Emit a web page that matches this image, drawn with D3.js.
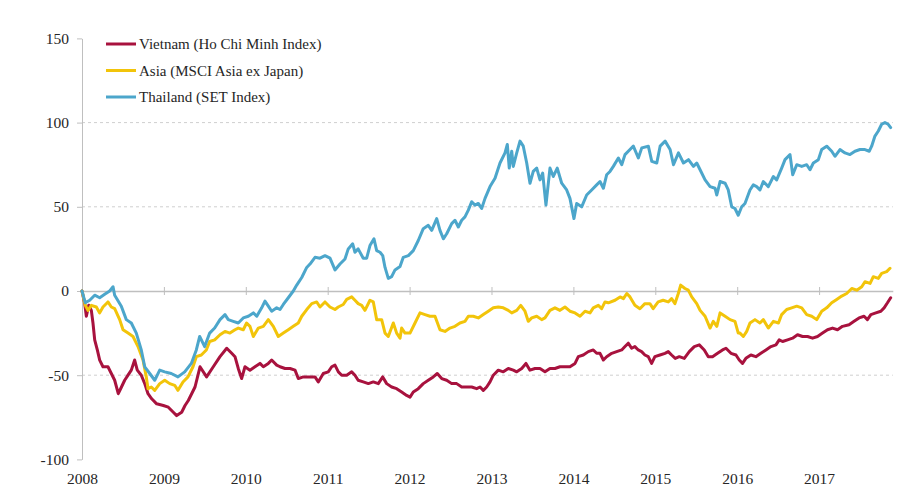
<!DOCTYPE html>
<html>
<head>
<meta charset="utf-8">
<script src="https://cdn.jsdelivr.net/npm/d3@7"></script>
<style>
  body { margin: 0; background: #fff; }
  text { font-family: "Liberation Serif", "DejaVu Serif", serif; fill: #262626; }
</style>
</head>
<body>
<div id="chart"></div>
<script>
// decimal year, % change since start of 2008
var vietnam = [
  [2008.000,0],[2008.033,-7.5],[2008.053,-15],[2008.082,-8.5],[2008.114,-11.5],[2008.134,-19],[2008.155,-29],
  [2008.187,-35],[2008.216,-41],[2008.256,-45],[2008.317,-45],[2008.358,-49],[2008.399,-53],[2008.443,-61],
  [2008.482,-57],[2008.521,-53],[2008.562,-50],[2008.602,-47],[2008.643,-41],[2008.675,-47],[2008.724,-50],
  [2008.766,-55],[2008.806,-61],[2008.851,-64],[2008.912,-67],[2008.993,-68],[2009.054,-69],[2009.115,-72],
  [2009.156,-74],[2009.217,-72],[2009.258,-68],[2009.298,-65],[2009.339,-61],[2009.380,-57],[2009.441,-45],
  [2009.521,-51],[2009.603,-45],[2009.685,-39],[2009.767,-34],[2009.828,-37],[2009.868,-39],[2009.908,-46],
  [2009.949,-52],[2009.990,-45],[2010.051,-47],[2010.112,-45],[2010.173,-43],[2010.214,-45],[2010.275,-43],
  [2010.316,-41],[2010.377,-44],[2010.418,-45],[2010.479,-46],[2010.540,-46],[2010.601,-47],[2010.641,-52],
  [2010.702,-51],[2010.784,-51],[2010.845,-51],[2010.885,-54],[2010.946,-49],[2011.007,-48],[2011.049,-45],
  [2011.089,-44],[2011.130,-48],[2011.171,-50],[2011.232,-50],[2011.293,-48],[2011.333,-50],[2011.372,-53],
  [2011.434,-54],[2011.496,-55],[2011.557,-54],[2011.618,-55],[2011.672,-51],[2011.720,-55],[2011.781,-57],
  [2011.842,-58],[2011.903,-60],[2011.964,-62],[2012.005,-63],[2012.045,-60],[2012.106,-58],[2012.167,-55],
  [2012.228,-53],[2012.289,-51],[2012.338,-49],[2012.392,-52],[2012.453,-53],[2012.514,-55],[2012.575,-55],
  [2012.636,-57],[2012.697,-57],[2012.758,-57],[2012.819,-58],[2012.860,-57],[2012.900,-59],[2012.941,-57],
  [2012.982,-54],[2013.022,-50],[2013.083,-47],[2013.144,-48],[2013.205,-46],[2013.266,-47],[2013.308,-48],
  [2013.369,-46],[2013.421,-43],[2013.470,-47],[2013.531,-46],[2013.592,-46],[2013.653,-48],[2013.714,-46],
  [2013.775,-46],[2013.836,-45],[2013.897,-45],[2013.958,-45],[2014.020,-43],[2014.060,-39],[2014.121,-38],
  [2014.182,-36],[2014.243,-35],[2014.284,-37],[2014.325,-37],[2014.366,-41],[2014.406,-39],[2014.468,-37],
  [2014.528,-36],[2014.590,-35],[2014.630,-33],[2014.670,-31],[2014.711,-34],[2014.751,-33],[2014.792,-35],
  [2014.833,-36],[2014.873,-38],[2014.914,-39],[2014.955,-43],[2014.995,-39],[2015.057,-38],[2015.118,-37],
  [2015.158,-36],[2015.199,-38],[2015.244,-40],[2015.293,-39],[2015.354,-40],[2015.415,-36],[2015.476,-33],
  [2015.537,-32],[2015.598,-35],[2015.647,-39],[2015.699,-39],[2015.760,-37],[2015.821,-35],[2015.863,-34],
  [2015.924,-37],[2015.985,-38],[2016.025,-41],[2016.065,-43],[2016.106,-40],[2016.167,-38],[2016.228,-39],
  [2016.289,-37],[2016.351,-35],[2016.412,-33],[2016.473,-32],[2016.513,-29],[2016.554,-30],[2016.615,-29],
  [2016.676,-28],[2016.737,-26],[2016.798,-27],[2016.859,-27],[2016.920,-28],[2016.981,-27],[2017.042,-25],
  [2017.103,-23],[2017.164,-22],[2017.225,-23],[2017.286,-21],[2017.366,-20],[2017.427,-18],[2017.488,-16],
  [2017.549,-15],[2017.590,-17],[2017.632,-14],[2017.693,-13],[2017.754,-12],[2017.794,-10],[2017.835,-7],
  [2017.874,-4]
];

var asia = [
  [2008.000,0],[2008.040,-8.5],[2008.073,-11.5],[2008.114,-8.5],[2008.175,-9.5],[2008.216,-13],[2008.256,-9.5],
  [2008.317,-6.5],[2008.358,-9.5],[2008.399,-10.5],[2008.460,-17],[2008.501,-23],[2008.562,-25],[2008.623,-27],
  [2008.684,-33],[2008.745,-41],[2008.785,-51],[2008.806,-58],[2008.846,-57],[2008.888,-59],[2008.949,-55],
  [2009.010,-53],[2009.071,-55],[2009.132,-56],[2009.172,-59],[2009.233,-54],[2009.294,-51],[2009.355,-45],
  [2009.396,-39],[2009.457,-38],[2009.518,-35],[2009.559,-30],[2009.620,-29],[2009.685,-26],[2009.746,-24],
  [2009.806,-25],[2009.868,-23],[2009.908,-22],[2009.969,-23],[2010.010,-19],[2010.051,-21],[2010.092,-27],
  [2010.153,-22],[2010.214,-21],[2010.275,-17],[2010.336,-21],[2010.397,-27],[2010.458,-25],[2010.519,-23],
  [2010.580,-21],[2010.641,-19],[2010.683,-15],[2010.744,-11],[2010.805,-7.5],[2010.866,-6.5],[2010.906,-9.5],
  [2010.967,-6.5],[2011.028,-9.5],[2011.089,-11],[2011.129,-9.5],[2011.190,-8],[2011.232,-5],[2011.293,-3.5],
  [2011.333,-5.5],[2011.372,-7.5],[2011.415,-8.5],[2011.455,-11.5],[2011.516,-5.5],[2011.557,-6.5],[2011.598,-17],
  [2011.659,-17],[2011.700,-25],[2011.740,-27],[2011.801,-19],[2011.842,-25],[2011.883,-28],[2011.903,-22],
  [2011.944,-25],[2012.005,-25],[2012.066,-19],[2012.127,-13],[2012.188,-14],[2012.249,-15],[2012.310,-15],
  [2012.371,-23],[2012.432,-24],[2012.493,-22],[2012.554,-21],[2012.615,-19],[2012.676,-18],[2012.717,-15],
  [2012.778,-15],[2012.839,-16],[2012.900,-14],[2012.961,-12],[2013.022,-10],[2013.083,-9.5],[2013.144,-10],
  [2013.205,-11.5],[2013.247,-13],[2013.308,-11.5],[2013.357,-8.5],[2013.409,-12],[2013.449,-18],[2013.491,-16],
  [2013.552,-15],[2013.613,-17],[2013.653,-16],[2013.714,-11.5],[2013.775,-10],[2013.836,-11.5],[2013.897,-9.5],
  [2013.958,-12],[2014.020,-13],[2014.081,-15],[2014.142,-12],[2014.203,-13],[2014.243,-10],[2014.304,-8.5],
  [2014.345,-10.5],[2014.386,-6.5],[2014.427,-7],[2014.508,-5.5],[2014.570,-3.5],[2014.611,-4.5],[2014.652,-1.5],
  [2014.691,-3.5],[2014.751,-8.5],[2014.812,-10.5],[2014.873,-7.5],[2014.934,-7.5],[2014.974,-10.5],[2015.035,-6.5],
  [2015.096,-5.5],[2015.158,-6.5],[2015.199,-4.5],[2015.240,-7.5],[2015.281,-1.5],[2015.310,3.5],[2015.362,1.5],
  [2015.403,0.5],[2015.445,-3.5],[2015.506,-7.5],[2015.547,-11.5],[2015.608,-15],[2015.669,-22],[2015.708,-18],
  [2015.751,-21],[2015.791,-13],[2015.852,-15],[2015.913,-17],[2015.973,-18],[2016.013,-25],[2016.034,-25],
  [2016.075,-27],[2016.116,-24],[2016.156,-19],[2016.217,-17],[2016.278,-19],[2016.319,-17],[2016.380,-22],
  [2016.442,-18],[2016.504,-19],[2016.543,-14],[2016.604,-11],[2016.665,-10],[2016.727,-9],[2016.788,-10],
  [2016.849,-14],[2016.910,-15],[2016.971,-17],[2017.032,-12],[2017.093,-10],[2017.154,-7],[2017.215,-5],
  [2017.276,-3],[2017.337,-1.5],[2017.399,1.5],[2017.460,0.5],[2017.521,2.5],[2017.560,5.5],[2017.623,4.5],
  [2017.662,8.5],[2017.723,7.5],[2017.764,10.5],[2017.825,11.5],[2017.866,13.5]
];

var thailand = [
  [2008.000,0],[2008.040,-7],[2008.094,-5.5],[2008.155,-2.5],[2008.216,-4],[2008.277,-2],[2008.338,0],
  [2008.379,2.5],[2008.399,-2.5],[2008.480,-9],[2008.541,-17],[2008.602,-19],[2008.663,-25],[2008.724,-35],
  [2008.766,-45],[2008.827,-49],[2008.888,-53],[2008.949,-47],[2009.010,-48],[2009.090,-49],[2009.172,-51],
  [2009.254,-48],[2009.335,-43],[2009.396,-35],[2009.437,-27],[2009.498,-33],[2009.559,-25],[2009.620,-22],
  [2009.685,-17],[2009.746,-14],[2009.786,-17],[2009.847,-18],[2009.908,-19],[2009.969,-16],[2010.031,-15],
  [2010.092,-13],[2010.134,-15],[2010.194,-10],[2010.234,-6],[2010.275,-9],[2010.316,-12],[2010.377,-10],
  [2010.418,-11],[2010.458,-8],[2010.519,-4],[2010.580,0],[2010.622,3.5],[2010.683,8],[2010.744,14],
  [2010.784,16],[2010.845,20],[2010.906,19.5],[2010.967,21],[2011.028,19.5],[2011.089,12.5],[2011.150,16],
  [2011.211,19],[2011.251,25],[2011.305,28],[2011.333,23],[2011.372,25],[2011.434,19.5],[2011.476,19.5],
  [2011.516,27],[2011.565,31],[2011.598,24],[2011.639,23],[2011.672,21],[2011.700,14],[2011.740,7.5],
  [2011.781,8.5],[2011.822,12.5],[2011.883,14.5],[2011.923,20],[2011.985,21],[2012.045,24],[2012.106,30],
  [2012.167,37],[2012.228,39],[2012.270,36],[2012.331,43],[2012.371,36],[2012.412,31],[2012.453,34],
  [2012.514,40],[2012.554,42],[2012.595,38],[2012.636,42],[2012.676,44],[2012.717,48],[2012.758,53],
  [2012.799,51],[2012.839,52],[2012.880,49],[2012.921,55],[2012.982,62],[2013.043,67],[2013.104,76],
  [2013.165,82],[2013.193,87],[2013.217,73],[2013.247,83],[2013.266,74],[2013.308,82],[2013.348,89],
  [2013.388,86],[2013.430,76],[2013.470,64],[2013.510,71],[2013.552,73],[2013.592,66],[2013.625,70],
  [2013.665,51],[2013.714,73],[2013.755,68],[2013.803,73],[2013.857,64],[2013.918,60],[2013.958,55],
  [2014.007,43],[2014.040,52],[2014.101,50],[2014.162,57],[2014.223,60],[2014.284,63],[2014.325,65],
  [2014.366,61],[2014.406,69],[2014.447,71],[2014.488,74],[2014.549,79],[2014.590,75],[2014.630,81],
  [2014.691,84],[2014.732,86],[2014.793,79],[2014.835,85],[2014.915,86],[2014.957,77],[2015.018,76],
  [2015.059,86],[2015.120,89],[2015.181,84],[2015.222,75],[2015.283,82],[2015.344,76],[2015.405,78],
  [2015.466,74],[2015.506,76],[2015.547,72],[2015.608,66],[2015.669,62],[2015.730,61],[2015.751,57],
  [2015.791,65],[2015.852,64],[2015.891,60],[2015.933,50],[2015.973,49],[2016.013,45],[2016.055,50],
  [2016.095,52],[2016.156,60],[2016.197,63],[2016.238,62],[2016.278,60],[2016.319,65],[2016.380,62],
  [2016.442,68],[2016.482,66],[2016.543,73],[2016.584,78],[2016.645,81],[2016.678,69],[2016.727,75],
  [2016.788,74],[2016.849,75],[2016.889,72],[2016.930,76],[2016.991,78],[2017.032,84],[2017.093,86],
  [2017.154,83],[2017.194,80],[2017.255,84],[2017.316,82],[2017.377,81],[2017.438,83],[2017.499,84],
  [2017.560,84],[2017.613,83],[2017.642,86],[2017.682,92],[2017.723,95],[2017.764,99],[2017.804,100],
  [2017.844,99],[2017.874,97]
];

var seriesNames = ["Vietnam (Ho Chi Minh Index)", "Asia (MSCI Asia ex Japan)", "Thailand (SET Index)"];
var seriesColors = ["#A8123E", "#F2C40A", "#4CA6CB"];
var yTicks = [-100, -50, 0, 50, 100, 150];
var yGrid = [-50, 50, 100];
var xTicks = [2008, 2009, 2010, 2011, 2012, 2013, 2014, 2015, 2016, 2017];

var width = 919, height = 502;

var svg = d3.select("#chart").append("svg")
  .attr("width", width)
  .attr("height", height);

var x = d3.scaleLinear().domain([2008, 2017.9]).range([82, 892.8]);
var y = d3.scaleLinear().domain([-100, 150]).range([459.4, 38.4]);

// dashed gridlines
svg.selectAll(".grid")
  .data(yGrid)
  .enter()
  .append("line")
  .attr("class", "grid")
  .attr("x1", x.range()[0])
  .attr("x2", x.range()[1])
  .attr("y1", d => y(d))
  .attr("y2", d => y(d))
  .attr("stroke", "#cfcfcf")
  .attr("stroke-width", 1)
  .attr("stroke-dasharray", "3,3");

// y axis (plain hyphen for negatives, like the original)
var yAxis = svg.append("g")
  .attr("transform", "translate(" + x.range()[0] + ",0)")
  .call(d3.axisLeft(y).tickValues(yTicks).tickSize(5).tickSizeOuter(0).tickPadding(8)
    .tickFormat(d => String(d)));
yAxis.select(".domain").attr("stroke", "#bfbfbf");
yAxis.selectAll(".tick line").attr("stroke", "#bfbfbf");
yAxis.selectAll("text").style("font-size", "15.5px").attr("fill", "#262626");

// zero line with crossing ticks
var zeroAxis = svg.append("g")
  .attr("transform", "translate(0," + y(0) + ")")
  .call(d3.axisBottom(x).tickValues(xTicks).tickSize(4).tickSizeOuter(0).tickFormat(""));
zeroAxis.select(".domain").attr("stroke", "#bfbfbf").attr("stroke-width", 1.3);
zeroAxis.selectAll(".tick line").attr("stroke", "#bfbfbf").attr("y1", -4).attr("y2", 4);

// year labels at bottom
var xAxis = svg.append("g")
  .attr("transform", "translate(0," + 470 + ")")
  .call(d3.axisBottom(x).tickValues(xTicks).tickSize(0).tickFormat(d3.format("d")));
xAxis.select(".domain").remove();
xAxis.selectAll("text").style("font-size", "15.5px").attr("fill", "#262626");

var line = d3.line()
  .x(d => x(d[0]))
  .y(d => y(d[1]));

var allSeries = [vietnam, asia, thailand];

svg.selectAll(".series")
  .data(allSeries)
  .enter()
  .append("path")
  .attr("class", "series")
  .attr("d", d => line(d))
  .attr("fill", "none")
  .attr("stroke", (d, i) => seriesColors[i])
  .attr("stroke-width", 3)
  .attr("stroke-linejoin", "round")
  .attr("stroke-linecap", "round");

// legend
var legend = svg.selectAll(".legend")
  .data(seriesNames)
  .enter()
  .append("g")
  .attr("class", "legend")
  .attr("transform", (d, i) => "translate(106," + (44 + i * 26.5) + ")");

legend.append("line")
  .attr("x1", 0)
  .attr("x2", 30)
  .attr("stroke", (d, i) => seriesColors[i])
  .attr("stroke-width", 3);

legend.append("text")
  .attr("x", 33)
  .attr("dy", "0.35em")
  .style("font-size", "15px")
  .text(d => d);
</script>
</body>
</html>
